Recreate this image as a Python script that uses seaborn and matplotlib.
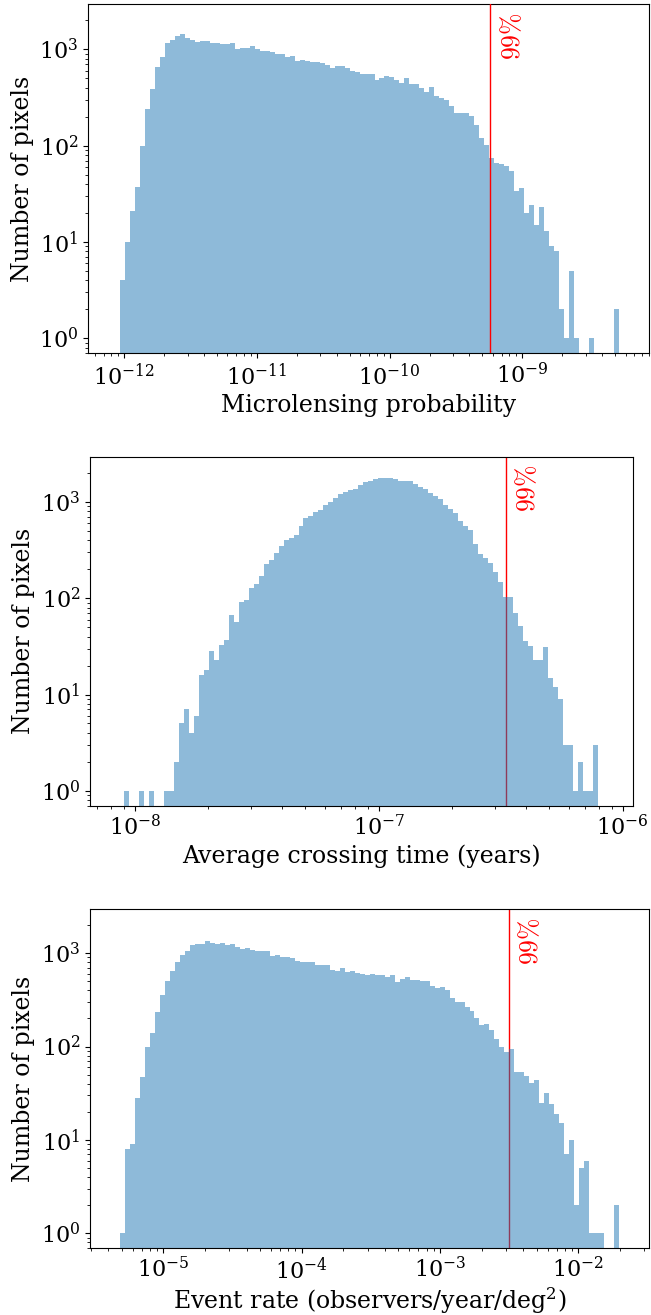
import numpy as np
import matplotlib
matplotlib.use("Agg")
import matplotlib.pyplot as plt
import seaborn as sns

# bin counts (log-spaced bins between data min and max)
prob_counts = [4, 10, 21, 37, 98, 242, 387, 660, 830, 1150,
               1260, 1380, 1430, 1300, 1260, 1200, 1230, 1210, 1150, 1170,
               1130, 1140, 1150, 1015, 1020, 1040, 1090, 1000, 970, 955,
               930, 890, 890, 826, 850, 763, 770, 750, 745, 730,
               720, 683, 645, 670, 675, 635, 590, 580, 560, 555,
               555, 480, 500, 525, 510, 480, 444, 500, 433, 433,
               394, 363, 403, 330, 315, 298, 257, 220, 220, 220,
               203, 164, 121, 102, 75, 66, 64, 61, 54, 34,
               36, 20, 24, 15, 23, 13, 9, 8, 2, 1,
               5, 1, 0, 0, 1, 0, 0, 0, 0, 2]
prob_range = (10 ** -12.032, 10 ** -8.271)
prob_99 = 5.71e-10
prob_ticks = [1e-12, 1e-11, 1e-10, 1e-9]

time_counts = [1, 0, 0, 1, 0, 1, 0, 0, 1, 1,
               2, 5, 7, 4, 6, 16, 18, 28, 23, 33,
               37, 67, 56, 91, 95, 127, 141, 169, 227, 251,
               295, 352, 401, 424, 459, 561, 675, 713, 791, 817,
               922, 1000, 1091, 1200, 1270, 1322, 1375, 1490, 1600, 1653,
               1720, 1763, 1763, 1792, 1720, 1653, 1653, 1653, 1527, 1443,
               1354, 1250, 1153, 1064, 929, 837, 773, 631, 561, 506,
               367, 288, 262, 232, 187, 146, 103, 102, 70, 51,
               36, 32, 23, 23, 31, 15, 12, 9, 3, 3,
               1, 2, 1, 1, 3]
time_range = (10 ** -8.045, 10 ** -6.102)
time_99 = 3.31e-7
time_ticks = [1e-8, 1e-7, 1e-6]

rate_counts = [1, 8, 9, 28, 47, 100, 139, 233, 358, 505,
               637, 814, 960, 1060, 1210, 1250, 1250, 1334, 1280, 1250,
               1280, 1210, 1260, 1160, 1110, 1130, 1070, 1050, 1060, 1060,
               944, 960, 906, 920, 880, 834, 800, 800, 795, 750,
               740, 750, 660, 650, 690, 625, 645, 610, 600, 590,
               600, 590, 580, 553, 580, 489, 525, 553, 518, 510,
               505, 500, 450, 422, 430, 405, 330, 303, 300, 264,
               241, 204, 171, 175, 151, 120, 100, 88, 93, 53,
               54, 48, 41, 44, 25, 32, 24, 19, 15, 7,
               10, 2, 5, 6, 1, 1, 1, 0, 0, 2]
rate_range = (10 ** -5.313, 10 ** -1.703)
rate_99 = 3.14e-3
rate_ticks = [1e-5, 1e-4, 1e-3, 1e-2]

xlabels = ["Microlensing probability",
           "Average crossing time (years)",
           "Event rate (observers/year/deg$^2$)"]
y_ticks = [1, 10, 100, 1000]

plt.rcParams["font.family"] = ["DejaVu Serif"]
plt.rcParams["mathtext.fontset"] = "dejavuserif"
plt.rcParams["font.size"] = 16

W, H = 651, 1315
fig = plt.figure(figsize=(W / 100, H / 100), dpi=100)

# axes boxes in pixels: left, top, right, bottom
boxes = [(88.3, 4.0, 649.0, 353.3),
         (90.0, 456.7, 632.7, 805.7),
         (90.0, 909.3, 649.3, 1247.7)]
xlims = [(10 ** -12.271, 10 ** -8.045),
         (10 ** -8.184, 10 ** -5.959),
         (10 ** -5.530, 10 ** -1.486)]
panels = [(prob_counts, prob_range, prob_99, prob_ticks, True),
          (time_counts, time_range, time_99, time_ticks, False),
          (rate_counts, rate_range, rate_99, rate_ticks, False)]

for i, (counts, rng, cut, xt, line_on_top) in enumerate(panels):
    l, t, r, b = boxes[i]
    ax = fig.add_axes([l / W, 1 - b / H, (r - l) / W, (b - t) / H])
    counts = np.asarray(counts, dtype=float)
    edges = np.geomspace(rng[0], rng[1], len(counts) + 1)
    centers = np.sqrt(edges[:-1] * edges[1:])

    ax.axvline(cut, color="red", lw=1, zorder=3 if line_on_top else 0.5)
    # seaborn bins on log10 values when log_scale is on
    sns.histplot(x=centers, weights=counts, bins=list(np.log10(edges)),
                 log_scale=True, color="#1f77b4", alpha=0.5,
                 linewidth=0, ax=ax, zorder=1)
    ax.set_yscale("log")
    ax.set_xticks(xt)
    ax.set_yticks(y_ticks)
    ax.set_xlim(*xlims[i])
    ax.set_ylim(10 ** -0.155, 10 ** 3.47)
    ax.annotate(r"$99\%$", xy=(cut, 1), xycoords=("data", "axes fraction"),
                xytext=(9, -8), textcoords="offset pixels",
                rotation=90, ha="left", va="top", color="red", fontsize=18.5,
                math_fontfamily="cm")
    ax.set_xlabel(xlabels[i], fontsize=17, labelpad=3 if i < 2 else 1)
    ax.set_ylabel("Number of pixels", fontsize=17)

fig.savefig("out.png", dpi=100)
